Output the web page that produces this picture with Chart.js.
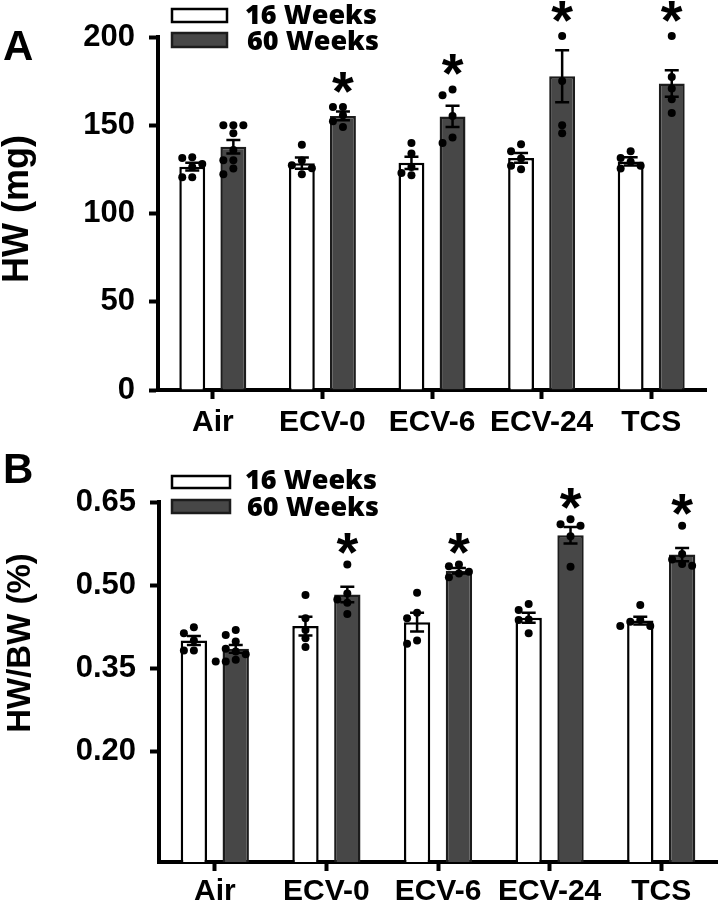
<!DOCTYPE html>
<html>
<head>
<meta charset="utf-8">
<script src="https://cdn.jsdelivr.net/npm/chart.js@4.4.1/dist/chart.umd.min.js"></script>
<style>
  html, body { margin: 0; padding: 0; background: #fff; }
  #wrap { position: relative; width: 720px; height: 904px; }
  canvas { position: absolute; left: 0; }
  #chartA { top: 0; }
  #chartB { top: 440px; }
</style>
</head>
<body>
<div id="wrap">
  <canvas id="chartA" width="720" height="440"></canvas>
  <canvas id="chartB" width="720" height="464"></canvas>
</div>
<script>
const categories = ['Air', 'ECV-0', 'ECV-6', 'ECV-24', 'TCS'];
const seriesNames = ['16 Weeks', '60 Weeks'];
const sig60 = [false, true, true, true, true]; // * vs 16 weeks

// Panel A - HW (mg)
const hwTicks = [0, 50, 100, 150, 200];
const hwMean16 = [126.5, 128.5, 128.7, 131.5, 129.5];
const hwSem16 = [2.2, 3.2, 3.5, 2.8, 2.3];
const hwMean60 = [137.8, 155.3, 155.0, 177.8, 173.6];
const hwSem60 = [3.8, 2.5, 6.0, 14.7, 7.5];
const hwDots16 = [
  [131.9, 131.4, 128.0, 126.3, 120.6, 120.6],
  [139.0, 130.0, 127.4, 125.7, 122.3],
  [140.0, 134.0, 126.3, 123.0, 121.7],
  [139.3, 135.3, 131.2, 127.0, 125.1],
  [135.3, 131.5, 129.3, 127.0, 125.5]
];
const hwDots60 = [
  [150.0, 150.0, 150.0, 145.4, 136.0, 130.2, 130.2, 125.5, 122.3],
  [160.3, 160.3, 155.7, 152.3, 149.0],
  [170.3, 167.0, 155.3, 143.0, 140.0],
  [200.5, 175.1, 150.0, 145.4],
  [200.5, 177.4, 170.8, 164.8, 157.0]
];

// Panel B - HW/BW (%)
const ratioTicks = [0.20, 0.35, 0.50, 0.65];
const ratioMean16 = [0.400, 0.426, 0.433, 0.441, 0.436];
const ratioSem16 = [0.008, 0.017, 0.017, 0.009, 0.007];
const ratioMean60 = [0.385, 0.483, 0.526, 0.590, 0.555];
const ratioSem60 = [0.007, 0.014, 0.005, 0.015, 0.012];
const ratioDots16 = [
  [0.424, 0.413, 0.400, 0.382, 0.382],
  [0.482, 0.440, 0.419, 0.404, 0.388],
  [0.486, 0.450, 0.440, 0.400, 0.394],
  [0.466, 0.455, 0.438, 0.437, 0.413],
  [0.464, 0.437, 0.434, 0.426, 0.426]
];
const ratioDots60 = [
  [0.419, 0.410, 0.398, 0.385, 0.380, 0.375, 0.365, 0.362, 0.362],
  [0.537, 0.485, 0.474, 0.468, 0.448],
  [0.537, 0.534, 0.524, 0.521, 0.514],
  [0.619, 0.610, 0.607, 0.588, 0.533],
  [0.607, 0.556, 0.546, 0.538, 0.535]
];

Chart.defaults.font.family = "'Liberation Sans', Arial, sans-serif";
Chart.defaults.color = '#000';

// simple beeswarm: spread points sideways so they don't overlap
function swarm(ys) {
  const placed = [];
  ys.forEach(py => {
    for (let k = 0; k < 20; k++) {
      const dx = k === 0 ? 0 : (k % 2 ? -1 : 1) * Math.ceil(k / 2) * 10;
      if (placed.every(p => Math.hypot(p.dx - dx, p.y - py) >= 8)) {
        placed.push({ dx: dx, y: py });
        break;
      }
    }
  });
  return placed;
}

const extras = {
  id: 'extras',
  afterDatasetsDraw(chart, args, opts) {
    const ctx = chart.ctx;
    const y = chart.scales.y;
    ctx.save();
    opts.groups.forEach((g, di) => {
      const meta = chart.getDatasetMeta(di);
      const means = chart.data.datasets[di].data;
      meta.data.forEach((bar, ci) => {
        const cx = bar.x;
        const yTop = y.getPixelForValue(means[ci] + g.sem[ci]);
        const yBot = y.getPixelForValue(means[ci] - g.sem[ci]);
        ctx.strokeStyle = '#000';
        ctx.lineWidth = 2.5;
        ctx.beginPath();
        ctx.moveTo(cx, yTop); ctx.lineTo(cx, yBot);
        ctx.moveTo(cx - 7, yTop); ctx.lineTo(cx + 7, yTop);
        ctx.moveTo(cx - 7, yBot); ctx.lineTo(cx + 7, yBot);
        ctx.stroke();

        const pts = swarm(g.dots[ci].map(v => y.getPixelForValue(v)));
        ctx.fillStyle = '#000';
        pts.forEach(p => {
          ctx.beginPath();
          ctx.arc(cx + p.dx, p.y, 4, 0, Math.PI * 2);
          ctx.fill();
        });

        if (g.sig && g.sig[ci]) {
          const top = Math.min(yTop, ...pts.map(p => p.y));
          ctx.font = "bold 56px 'Liberation Sans', Arial";
          ctx.textAlign = 'center';
          ctx.textBaseline = 'alphabetic';
          const m = ctx.measureText('*');
          const cy = top - opts.starGap;
          ctx.fillText('*', cx, cy + (m.actualBoundingBoxAscent - m.actualBoundingBoxDescent) / 2);
        }
      });
    });
    ctx.restore();
  },
  afterDraw(chart, args, opts) {
    const ctx = chart.ctx;
    ctx.save();
    // legend
    chart.data.datasets.forEach((ds, i) => {
      const b = opts.legend[i];
      ctx.fillStyle = ds.backgroundColor;
      ctx.fillRect(b.x, b.y, b.w, b.h);
      ctx.strokeStyle = ds.borderColor;
      ctx.lineWidth = 2.5;
      ctx.strokeRect(b.x, b.y, b.w, b.h);
      ctx.fillStyle = '#000';
      ctx.font = "800 27px 'Open Sans', Lato, sans-serif";
      ctx.textAlign = 'left';
      ctx.textBaseline = 'middle';
      ctx.fillText(ds.label, b.tx, b.ty);
    });
    // panel letter
    ctx.font = "bold 42px 'Liberation Sans', Arial";
    ctx.textAlign = 'left';
    ctx.textBaseline = 'alphabetic';
    ctx.fillText(opts.letter, opts.letterX, opts.letterY);
    // y title
    ctx.translate(opts.titleX, opts.titleY);
    ctx.rotate(-Math.PI / 2);
    ctx.font = 'bold ' + opts.titleSize + "px 'Liberation Sans', Arial";
    ctx.textAlign = 'center';
    ctx.fillText(opts.title, 0, 0);
    ctx.restore();
  }
};

function makePanel(id, p) {
  return new Chart(document.getElementById(id), {
    type: 'bar',
    data: {
      labels: categories,
      datasets: [
        { label: seriesNames[0], data: p.mean16, backgroundColor: '#ffffff', borderColor: '#000000' },
        { label: seriesNames[1], data: p.mean60, backgroundColor: '#474747', borderColor: '#1c1c1c' }
      ]
    },
    options: {
      responsive: false,
      animation: false,
      datasets: {
        bar: { borderWidth: 2.5, categoryPercentage: 0.75, barPercentage: 0.63, borderSkipped: 'start' }
      },
      layout: { padding: p.padding },
      plugins: {
        legend: { display: false },
        tooltip: { enabled: false },
        extras: {
          groups: [
            { sem: p.sem16, dots: p.dots16 },
            { sem: p.sem60, dots: p.dots60, sig: sig60 }
          ],
          starGap: p.starGap,
          legend: p.legend,
          letter: p.letter, letterX: 3, letterY: p.letterY,
          title: p.title, titleX: p.titleX, titleY: p.titleY, titleSize: p.titleSize
        }
      },
      scales: {
        x: {
          grid: { display: true, drawOnChartArea: false, offset: false, tickLength: 9, tickWidth: 4, tickColor: '#000' },
          border: { display: true, width: 4, color: '#000' },
          ticks: { font: { size: 30, weight: 'bold' }, padding: p.xPad, maxRotation: 0, autoSkip: false },
          afterFit: s => { s.height = p.xHeight; }
        },
        y: {
          min: p.min,
          max: p.max,
          grid: { display: true, drawOnChartArea: false, tickLength: 9, tickWidth: 4, tickColor: '#000' },
          border: { display: true, width: 4, color: '#000' },
          ticks: { font: { size: 31, weight: 'bold' }, padding: 14, callback: p.fmt },
          afterBuildTicks: s => { s.ticks = p.ticks.map(v => ({ value: v })); },
          afterFit: s => { s.width = p.yWidth; }
        }
      }
    },
    plugins: [extras]
  });
}

makePanel('chartA', {
  mean16: hwMean16, sem16: hwSem16, dots16: hwDots16,
  mean60: hwMean60, sem60: hwSem60, dots60: hwDots60,
  ticks: hwTicks, min: 0, max: 200, fmt: v => String(v),
  padding: { top: 37, right: 14, left: 0, bottom: 0 },
  yWidth: 158, xHeight: 50, xPad: 6, starGap: 25,
  legend: [
    { x: 172, y: 9, w: 55, h: 13, tx: 245, ty: 16 },
    { x: 172, y: 33, w: 55, h: 14, tx: 247, ty: 42 }
  ],
  letter: 'A', letterY: 60,
  title: 'HW (mg)', titleX: 28, titleY: 209, titleSize: 36
});

makePanel('chartB', {
  mean16: ratioMean16, sem16: ratioSem16, dots16: ratioDots16,
  mean60: ratioMean60, sem60: ratioSem60, dots60: ratioDots60,
  ticks: ratioTicks, min: 0, max: 0.65, fmt: v => v.toFixed(2),
  padding: { top: 62, right: 3, left: 0, bottom: 0 },
  yWidth: 159, xHeight: 42, xPad: 3, starGap: 21,
  legend: [
    { x: 172, y: 36, w: 58, h: 12, tx: 245, ty: 41 },
    { x: 172, y: 60, w: 58, h: 13, tx: 247, ty: 68 }
  ],
  letter: 'B', letterY: 43,
  title: 'HW/BW (%)', titleX: 30, titleY: 203, titleSize: 33
});
</script>
</body>
</html>
